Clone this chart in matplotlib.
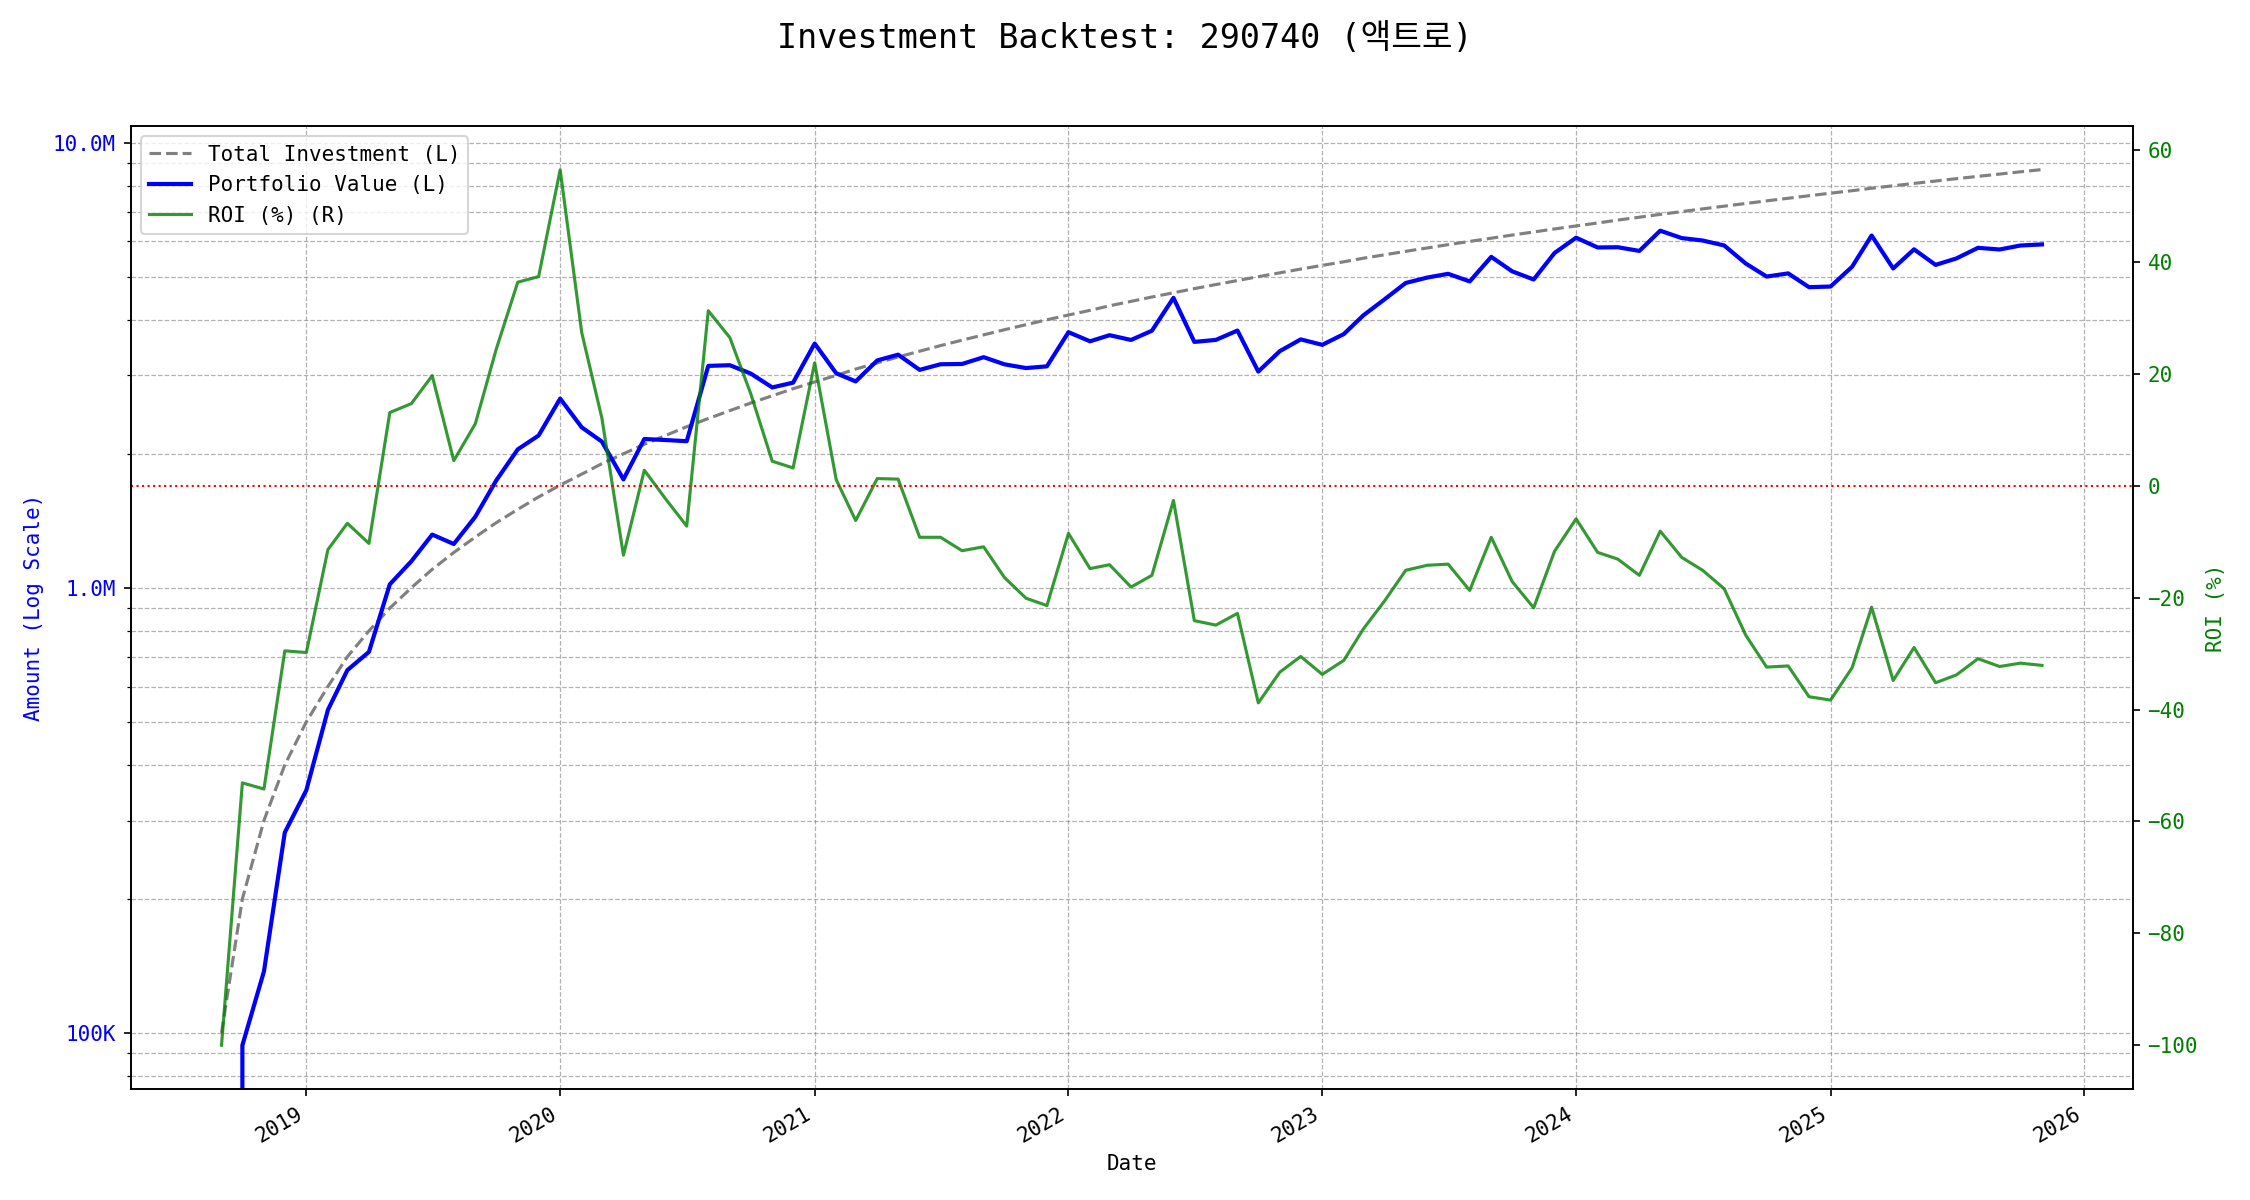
import numpy as np
import pandas as pd
import matplotlib
matplotlib.use("Agg")
import matplotlib.pyplot as plt
import matplotlib.ticker as mticker

plt.rcParams['font.family'] = ['DejaVu Sans Mono', 'Noto Sans CJK KR']

# Datos mensuales (inicio de cada mes)
dates = pd.date_range("2018-09-01", "2025-11-01", freq="MS")

# Inversión acumulada (millones)
invested_m = [
    0.1, 0.2, 0.3, 0.4,
    0.5, 0.6, 0.7, 0.8, 0.9, 1.0, 1.1, 1.2, 1.3, 1.4, 1.5, 1.6,
    1.7, 1.8, 1.9, 2.0, 2.1, 2.2, 2.3, 2.4, 2.5, 2.6, 2.7, 2.8,
    2.9, 3.0, 3.1, 3.2, 3.3, 3.4, 3.5, 3.6, 3.7, 3.8, 3.9, 4.0,
    4.1, 4.2, 4.3, 4.4, 4.5, 4.6, 4.7, 4.8, 4.9, 5.0, 5.1, 5.2,
    5.3, 5.4, 5.5, 5.6, 5.7, 5.8, 5.9, 6.0, 6.1, 6.2, 6.3, 6.4,
    6.5, 6.6, 6.7, 6.8, 6.9, 7.0, 7.1, 7.2, 7.3, 7.4, 7.5, 7.6,
    7.7, 7.8, 7.9, 8.0, 8.1, 8.2, 8.3, 8.4, 8.5, 8.6, 8.7,
]

# ROI (%)
roi = [
    -100.0, -53.1, -54.2, -29.5,
    -29.8, -11.4, -6.7, -10.3, 13.1, 14.7, 19.7, 4.5, 11.1, 24.4, 36.4, 37.4,
    56.5, 27.4, 12.1, -12.4, 2.8, -2.4, -7.2, 31.3, 26.5, 16.5, 4.4, 3.2,
    22.0, 1.1, -6.2, 1.3, 1.2, -9.2, -9.2, -11.6, -10.9, -16.4, -20.1, -21.4,
    -8.5, -14.8, -14.1, -18.1, -16.0, -2.6, -24.1, -24.9, -22.8, -38.8, -33.3, -30.5,
    -33.7, -31.2, -25.6, -20.5, -15.1, -14.2, -14.0, -18.7, -9.2, -17.1, -21.8, -11.7,
    -5.9, -11.9, -13.1, -16.0, -8.1, -12.8, -15.1, -18.4, -26.7, -32.4, -32.2, -37.7,
    -38.3, -32.5, -21.7, -34.8, -28.9, -35.2, -33.8, -30.9, -32.3, -31.7, -32.1,
]

invested = np.array(invested_m) * 1e6
value = invested * (1 + np.array(roi) / 100.0)


def fmt_amount(x, pos):
    if x >= 1e6:
        return f"{x / 1e6:.1f}M"
    return f"{x / 1e3:.0f}K"


fig, ax1 = plt.subplots(figsize=(15, 8), dpi=150)

l1, = ax1.plot(dates, invested, color="gray", linestyle="--", linewidth=1.5,
               label="Total Investment (L)")
l2, = ax1.plot(dates, value, color="blue", linewidth=2, label="Portfolio Value (L)")
ax1.set_yscale("log")
ax1.set_ylim(74800, 10.9e6)
ax1.yaxis.set_major_formatter(mticker.FuncFormatter(fmt_amount))
ax1.set_ylabel("Amount (Log Scale)", color="blue", fontsize=10)
ax1.tick_params(axis="y", labelcolor="blue", labelsize=10)
ax1.tick_params(axis="x", labelsize=10)
ax1.set_xlabel("Date", fontsize=10)
ax1.grid(True, which="both", linestyle="--", linewidth=0.6, color="gray", alpha=0.6)

ax2 = ax1.twinx()
l3, = ax2.plot(dates, roi, color="green", alpha=0.8, linewidth=1.5, label="ROI (%)")
ax2.axhline(0, color="red", linestyle=":", linewidth=1)
ax2.set_ylabel("ROI (%)", color="green", fontsize=10)
ax2.tick_params(axis="y", labelcolor="green", labelsize=10)

ax2.legend([l1, l2, l3], ["Total Investment (L)", "Portfolio Value (L)", "ROI (%) (R)"],
           loc="upper left", fontsize=10)

fig.autofmt_xdate()
fig.subplots_adjust(left=0.058, right=0.948, top=0.895, bottom=0.0925)
fig.suptitle("Investment Backtest: 290740 (액트로)", fontsize=16, y=0.982)

fig.savefig("out.png", dpi=150)
plt.close(fig)
